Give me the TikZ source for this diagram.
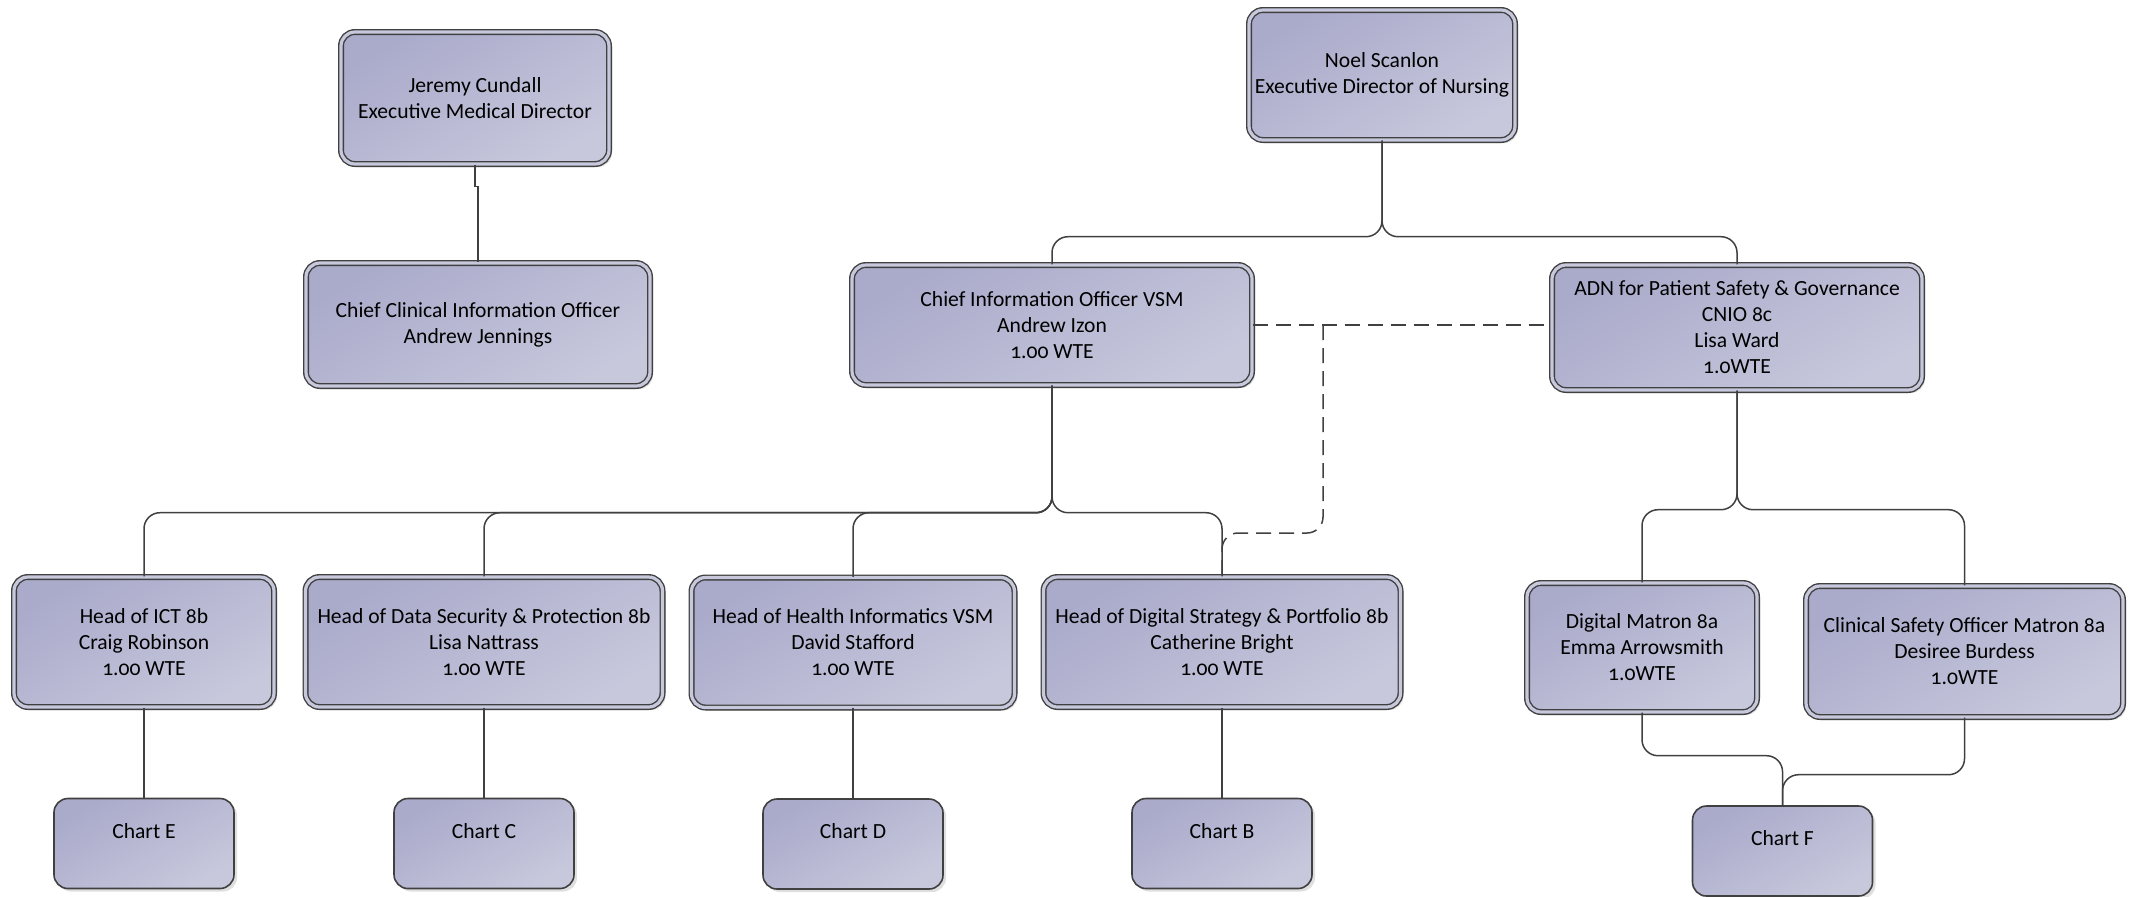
\documentclass[tikz,border=0pt]{standalone}
\usepackage{fontspec}
\setmainfont{Carlito}[Numbers=OldStyle]
\usepackage{tikz}
\usetikzlibrary{positioning, shadows}
\definecolor{boxdark}{RGB}{170,170,203}
\definecolor{boxlight}{RGB}{199,200,220}
\definecolor{edge}{RGB}{64,64,64}
\tikzstyle{rolebox} = [rectangle, rounded corners=7pt, draw=edge, line width=0.7pt, double=boxlight, double distance=1.6pt, top color=boxdark, bottom color=boxlight, shading angle=30, drop shadow={shadow xshift=1.5pt, shadow yshift=-1.5pt, opacity=0.25}, minimum height=65pt, align=center, inner xsep=2pt, font=\fontsize{10.8}{13}\selectfont]
\tikzstyle{chartbox} = [rectangle, rounded corners=7pt, draw=edge, line width=0.8pt, top color=boxdark, bottom color=boxlight, shading angle=30, drop shadow={shadow xshift=1.5pt, shadow yshift=-1.5pt, opacity=0.25}, minimum width=90pt, minimum height=45pt, text height=7pt, text depth=12.5pt, font=\fontsize{10.8}{13}\selectfont]
\tikzstyle{link} = [draw=edge, line width=0.75pt, rounded corners=8pt]
\tikzstyle{dlink} = [link, dash pattern=on 7.5pt off 4pt]

\begin{document}
\begin{tikzpicture}[x=0.5pt, y=-0.5pt]
\useasboundingbox (0,0) rectangle (2134,896);

% Directors
\node (jer) [rolebox, minimum width=134pt, minimum height=66pt] at (475,98) {Jeremy Cundall\\Executive Medical Director};
\node (noel) [rolebox, minimum width=133pt] at (1382,75) {Noel Scanlon\\Executive Director of Nursing};

% Second level
\node (ccio) [rolebox, minimum width=172pt, minimum height=61.5pt] at (478,324.5) {Chief Clinical Information Officer\\Andrew Jennings};
\node (cio) [rolebox, minimum width=200pt, minimum height=60pt] at (1052,325) {Chief Information Officer VSM\\Andrew Izon\\1.00 WTE};
\node (adn) [rolebox, minimum width=185pt, minimum height=62.5pt] at (1737,327.5) {ADN for Patient Safety \& Governance\\CNIO 8c\\Lisa Ward\\1.0WTE};

% Heads
\node (ict) [rolebox, minimum width=130pt] at (144,642) {Head of ICT 8b\\Craig Robinson\\1.00 WTE};
\node (dsp) [rolebox, minimum width=178.5pt] at (484,642) {Head of Data Security \& Protection 8b\\Lisa Nattrass\\1.00 WTE};
\node (hi) [rolebox, minimum width=161.5pt] at (853,642.5) {Head of Health Informatics VSM\\David Stafford\\1.00 WTE};
\node (dst) [rolebox, minimum width=178.5pt] at (1222,642) {Head of Digital Strategy \& Portfolio 8b\\Catherine Bright\\1.00 WTE};
\node (dm) [rolebox, minimum width=115pt, minimum height=64.5pt] at (1642,647.5) {Digital Matron 8a\\Emma Arrowsmith\\1.0WTE};
\node (cso) [rolebox, minimum width=158.5pt, minimum height=65.5pt] at (1964.5,651.5) {Clinical Safety Officer Matron 8a\\Desiree Burdess\\1.0WTE};

% Charts
\node (chE) [chartbox, below=45pt of ict] {Chart E};
\node (chC) [chartbox, below=45pt of dsp] {Chart C};
\node (chD) [chartbox, below=45pt of hi] {Chart D};
\node (chB) [chartbox, below=45pt of dst] {Chart B};
\node (chF) [chartbox] at (1782.5,851) {Chart F};

% Lines
\draw [link, sharp corners] (jer.south) -- ++(0,22) -| (ccio.north);
\draw [link] (noel.south) -- ++(0,96) -| (cio.north);
\draw [link] (noel.south) -- ++(0,96) -| (adn.north);
\foreach \h in {ict, dsp, hi, dst}
  \draw [link] (cio.south) -- ++(0,127) -| (\h.north);
\foreach \m in {dm, cso}
  \draw [link] (adn.south) -- ++(0,119) -| (\m.north);
\foreach \h/\c in {ict/chE, dsp/chC, hi/chD, dst/chB}
  \draw [link] (\h.south) -- (\h.south |- \c.north);
\draw [link] (dm.south) -- ++(0,43) -| (chF.north);
\draw [link] (cso.south) -- ++(0,57) -| (chF.north);

% Dotted line reporting
\coordinate (dj) at (1323,325);
\draw [dlink] (cio.east) -- (cio.east -| adn.west);
\draw [dlink] (dj) -- ++(0,208) -| (dst.north);

\end{tikzpicture}
\end{document}
